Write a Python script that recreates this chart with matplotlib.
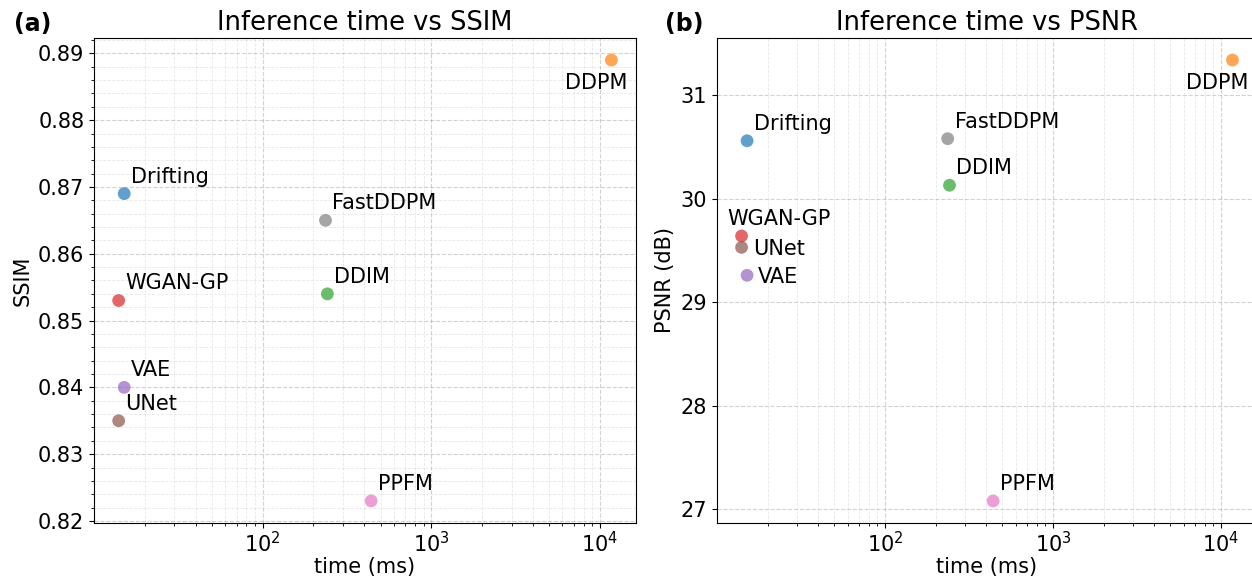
import matplotlib
matplotlib.use('Agg')
import matplotlib.pyplot as plt

models = ['Drifting', 'WGAN-GP', 'VAE', 'UNet', 'FastDDPM', 'DDIM', 'PPFM', 'DDPM']
colors = ['tab:blue', 'tab:red', 'tab:purple', 'tab:brown', 'tab:gray', 'tab:green', 'tab:pink', 'tab:orange']
time_ms = [15.1, 14.0, 15.1, 14.0, 236, 242, 440, 11700]
ssim = [0.869, 0.853, 0.840, 0.835, 0.865, 0.854, 0.823, 0.889]
psnr = [30.56, 29.64, 29.26, 29.53, 30.58, 30.13, 27.08, 31.34]

# label offsets (points) and alignment per panel
off_a = {'DDPM': ((-11, -9), 'center', 'top')}
off_b = {'DDPM': ((-11, -9), 'center', 'top'),
         'WGAN-GP': ((-10, 8), 'left', 'baseline'),
         'UNet': ((8, -1), 'left', 'center'),
         'VAE': ((8, -1), 'left', 'center')}


def scatter_panel(ax, yvals, offsets, title, ylabel):
    for m, c, x, y in zip(models, colors, time_ms, yvals):
        ax.scatter(x, y, s=85, color=c, alpha=0.7, edgecolors='none', zorder=3)
        xy, ha, va = offsets.get(m, ((5, 8), 'left', 'baseline'))
        ax.annotate(m, (x, y), xytext=xy, textcoords='offset points',
                    ha=ha, va=va, fontsize=15)
    ax.set_xscale('log')
    ax.set_title(title, fontsize=18.5)
    ax.set_xlabel('time (ms)', fontsize=15, labelpad=1)
    ax.set_ylabel(ylabel, fontsize=15)
    ax.tick_params(labelsize=15)
    ax.tick_params(axis='x', pad=2)
    ax.grid(True, which='major', ls='--', color='gray', alpha=0.35, lw=0.8)
    ax.grid(True, which='minor', ls='--', color='gray', alpha=0.18, lw=0.6)
    ax.set_axisbelow(True)


fig = plt.figure(figsize=(12.52, 5.8), dpi=100)
ax1 = fig.add_axes([0.0751, 0.0983, 0.4329, 0.8362])
ax2 = fig.add_axes([0.5727, 0.0983, 0.4313, 0.8362])

scatter_panel(ax1, ssim, off_a, 'Inference time vs SSIM', 'SSIM')
ax1.minorticks_on()
scatter_panel(ax2, psnr, off_b, 'Inference time vs PSNR', 'PSNR (dB)')

fig.text(0.011, 0.958, '(a)', fontsize=17, fontweight='bold', va='center')
fig.text(0.531, 0.958, '(b)', fontsize=17, fontweight='bold', va='center')

fig.savefig('out.png', dpi=100)
plt.close(fig)
